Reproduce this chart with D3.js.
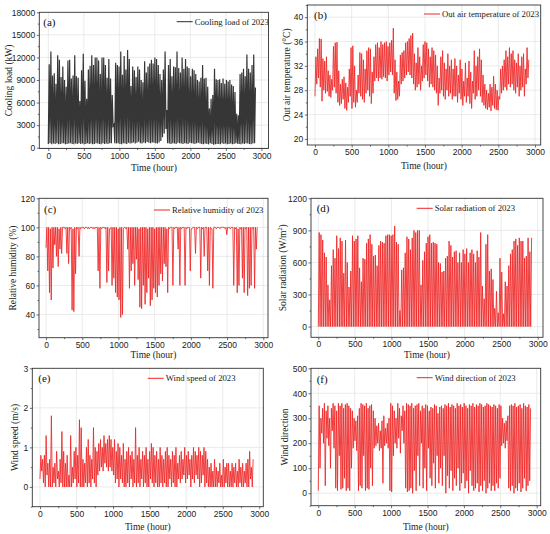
<!DOCTYPE html>
<html lang="en">
<head>
<meta charset="UTF-8">
<title>Cooling load and weather of 2023</title>
<style>
html,body{margin:0;width:550px;height:534px;overflow:hidden;background:#fff;}
svg{display:block;font-family:"Liberation Serif","Times New Roman",serif;}
.tick text{font-size:8.5px;fill:#222;}
.tick line{stroke:#333;stroke-width:0.7;}
</style>
</head>
<body>
<svg width="550" height="534"></svg>
<script src="https://d3js.org/d3.v7.min.js"></script>
<script>
// daily peaks and troughs, one value per day (122 days, 2928 hours)
const coolHi = [
  11100,12800,9600,9900,8500,12300,11700,9400,10800,9000,
  8100,11600,11700,9200,9600,12300,9500,9300,6200,10300,
  12500,8900,6500,10400,10900,12300,11000,12000,12000,11600,
  9800,12000,12000,11000,9300,11800,9200,7000,3100,11300,
  11000,10800,12800,9700,12200,10400,13000,11800,8200,10800,
  10300,9400,10800,10400,9000,8700,11500,10000,10800,11200,
  11700,11200,12000,11800,11000,9800,9000,10400,12800,5000,
  11000,11800,9500,10800,10700,12800,10600,10000,12000,10500,
  11800,10800,10600,9500,10500,10300,9800,9000,8800,9300,
  11000,9200,9300,8100,5200,6500,7000,10500,9100,9000,
  9100,8600,9200,8500,9000,8800,9000,8400,8200,7400,
  4500,4300,9800,10000,10500,9500,12400,10500,10000,11000,
  12400,8000];
const coolLo = [
  500,600,450,550,500,600,450,500,550,600,
  450,500,550,600,500,450,550,500,600,500,
  550,450,500,600,500,550,450,500,600,550,
  500,450,600,500,550,500,600,600,2900,600,
  550,600,500,450,600,550,500,650,550,600,
  700,550,650,800,600,550,700,600,750,650,
  600,700,650,600,550,700,900,1400,1900,2500,
  600,550,500,600,550,500,650,600,550,500,
  600,550,500,650,600,550,500,600,650,550,
  500,450,550,500,450,600,500,400,450,500,
  500,450,600,500,550,450,500,550,450,500,
  600,550,500,450,550,500,600,550,500,450,
  550,600];

const tempHi = [
  33.5,34.8,36.5,36.4,33.2,32.8,33.5,31.2,30.5,29.8,
  35.2,35.8,35.9,31.2,29.0,29.8,30.2,29.2,28.5,31.5,
  35.0,35.3,32.0,28.0,30.5,34.2,34.0,33.0,31.5,34.5,
  35.0,34.8,31.0,33.5,35.5,35.8,35.0,36.0,35.5,35.8,
  36.0,35.2,35.8,36.2,38.2,33.0,31.0,29.5,33.8,34.2,
  34.5,35.8,36.0,36.5,37.0,37.4,34.0,32.5,35.0,33.5,
  32.0,35.5,36.0,35.8,34.8,33.5,35.0,34.5,33.8,32.0,
  30.0,33.5,34.5,32.5,31.5,34.0,32.0,33.0,31.5,33.2,
  32.0,30.5,33.0,31.5,29.5,32.5,30.0,32.8,31.0,29.5,
  34.5,32.0,33.5,34.8,33.0,30.5,29.0,28.0,27.5,29.0,
  28.5,30.3,29.0,28.0,27.0,31.5,32.0,33.0,34.5,33.5,
  35.0,34.0,34.5,33.0,32.5,34.0,32.0,33.5,34.0,31.5,
  35.0,33.0];
const tempLo = [
  27.0,29.0,30.0,28.5,26.2,28.0,27.5,27.8,27.0,26.8,
  28.0,28.5,27.5,26.0,25.5,25.8,26.5,25.0,24.7,26.0,
  27.0,25.0,26.0,25.2,26.0,27.5,27.0,26.5,26.0,27.5,
  28.0,27.0,25.8,27.5,29.5,30.0,29.5,30.0,29.8,30.2,
  30.0,29.5,30.5,31.0,30.5,27.5,26.3,26.5,27.0,29.0,
  29.5,30.0,30.5,31.0,30.5,30.0,29.0,28.0,28.5,29.0,
  28.0,29.5,30.0,30.5,29.5,28.5,29.0,28.5,28.0,27.5,
  25.5,27.5,28.0,27.0,26.5,28.0,27.0,27.5,26.5,27.0,
  27.0,26.0,27.5,26.5,25.5,27.0,26.0,27.0,25.8,25.0,
  27.5,26.5,27.0,28.0,27.0,26.0,25.5,25.0,24.8,25.2,
  24.6,25.5,25.0,24.8,24.7,26.5,27.5,28.0,28.5,28.0,
  29.0,28.5,29.0,28.0,27.5,28.5,27.0,28.0,28.5,27.0,
  29.0,30.0];

const rhHi = [
  100,100,99,100,100,100,100,99,100,100,
  100,100,100,100,100,99,100,100,100,100,
  100,100,100,100,100,100,100,100,100,100,
  100,100,100,100,100,100,99,100,100,100,
  100,99,100,100,99,100,100,100,100,100,
  100,100,100,99,100,100,100,100,99,100,
  100,100,99,100,100,100,100,100,100,99,
  100,100,100,100,100,100,100,100,100,100,
  100,100,100,99,100,100,100,100,100,100,
  100,100,100,100,100,99,100,100,100,100,
  100,100,100,100,100,100,100,100,100,100,
  99,100,100,100,100,100,100,100,100,100,
  100,100];
const rhLo = [
  86,70,55,50,72,88,80,73,85,82,
  100,99,82,75,99,43,42,68,99,80,
  99,100,99,100,99,99,100,99,99,100,
  70,58,99,100,99,62,70,99,60,65,
  55,52,50,38,40,100,99,85,58,70,
  75,60,78,64,45,44,60,47,55,65,
  46,50,58,55,52,60,68,63,75,73,
  55,99,100,60,99,100,85,60,99,100,
  60,99,100,70,99,100,82,99,100,65,
  99,80,100,70,60,99,58,100,99,100,
  99,100,100,99,95,100,99,100,60,99,
  55,60,99,65,55,99,53,58,60,99,
  58,85];

const solarHi = [
  880,860,810,690,650,390,250,570,720,640,
  850,730,830,800,500,810,600,370,520,850,
  800,820,850,550,420,640,630,780,820,860,
  770,660,670,570,760,800,790,780,850,860,
  860,850,860,940,790,770,150,530,550,690,
  840,820,720,830,900,880,900,900,390,620,
  700,780,840,860,780,790,780,770,600,590,
  510,520,640,660,800,760,650,700,710,600,
  690,600,720,680,730,600,690,720,680,600,
  710,650,880,380,260,770,860,520,540,440,
  170,330,130,640,510,120,420,380,570,680,
  720,800,820,760,830,800,800,640,660,830,
  700,830];
const solarLo = [
  0,0,0,0,0,0,0,0,0,0, 0,0,0,0,0,0,0,0,0,0,
  0,0,0,0,0,0,0,0,0,0, 0,0,0,0,0,0,0,0,0,0,
  0,0,0,0,0,0,0,0,0,0, 0,0,0,0,0,0,0,0,0,0,
  0,0,0,0,0,0,0,0,0,0, 0,0,0,0,0,0,0,0,0,0,
  0,0,0,0,0,0,0,0,0,0, 0,0,0,0,0,0,0,0,0,0,
  0,0,0,0,0,0,0,0,0,0, 0,0,0,0,0,0,0,0,0,0,
  0,0];

const windHi = [
  0.8,0.7,0.8,1.3,0.6,0.7,1.8,0.5,0.6,0.9,
  0.4,0.7,1.4,0.9,0.6,0.8,0.3,1.3,0.5,0.9,
  1.0,0.8,1.7,1.5,0.7,0.6,1.0,1.2,0.8,0.7,
  1.5,1.0,0.9,1.1,1.2,1.0,1.3,1.1,1.2,1.3,
  1.2,1.0,1.2,0.9,1.1,1.0,0.8,1.1,0.7,0.9,
  1.0,0.8,0.9,0.7,1.5,0.8,1.0,0.7,0.9,0.8,
  1.0,0.7,0.9,1.1,1.0,0.8,0.9,0.7,1.0,0.8,
  0.7,0.9,1.0,0.8,0.7,0.9,0.8,1.0,0.6,0.8,
  0.9,0.7,1.0,0.8,0.9,0.7,0.8,1.0,0.9,0.8,
  1.0,0.9,0.8,1.0,0.9,0.7,0.5,0.6,0.4,0.7,
  0.5,0.4,0.6,0.3,0.7,0.5,0.6,0.6,0.4,0.6,
  0.5,0.6,0.4,0.7,0.5,0.6,0.4,0.6,0.7,0.9,
  0.5,0.7];
const windLo = [
  0.2,0.4,0.1,0.0,0.3,0.0,0.0,0.0,0.1,0.0,
  0.2,0.0,0.1,0.0,0.0,0.0,0.0,0.0,0.0,0.1,
  0.2,0.0,0.1,0.0,0.0,0.0,0.1,0.0,0.1,0.0,
  0.2,0.1,0.0,0.3,0.4,0.5,0.4,0.6,0.5,0.4,
  0.5,0.4,0.3,0.1,0.2,0.0,0.2,0.1,0.0,0.0,
  0.1,0.0,0.2,0.0,0.1,0.0,0.1,0.0,0.2,0.0,
  0.1,0.0,0.0,0.2,0.1,0.0,0.1,0.0,0.0,0.1,
  0.0,0.1,0.0,0.0,0.2,0.0,0.1,0.0,0.0,0.2,
  0.1,0.2,0.3,0.1,0.2,0.3,0.0,0.2,0.1,0.3,
  0.2,0.0,0.1,0.3,0.0,0.1,0.0,0.0,0.0,0.0,
  0.0,0.0,0.1,0.0,0.0,0.0,0.1,0.0,0.0,0.0,
  0.0,0.1,0.0,0.0,0.1,0.0,0.0,0.1,0.0,0.0,
  0.2,0.0];

const dirHi = [
  350,300,340,360,330,350,300,340,360,350,
  330,360,350,360,340,355,360,350,340,330,
  300,290,310,340,360,355,350,360,340,350,
  355,330,300,270,280,250,290,310,260,280,
  300,360,350,330,300,360,340,310,350,330,
  360,355,350,360,340,350,355,360,330,350,
  340,355,350,330,345,340,355,350,320,345,
  350,340,355,350,360,345,355,350,340,360,
  350,355,345,360,350,340,355,350,360,345,
  355,350,360,355,345,350,360,355,350,345,
  355,350,340,355,350,300,280,290,310,350,
  355,350,360,345,350,355,340,360,350,345,
  355,340];
const dirLo = [
  10,100,240,200,30,220,190,100,250,180,
  20,10,150,15,20,60,10,20,10,100,
  180,210,170,10,30,20,150,10,20,15,
  100,30,180,190,200,170,180,40,190,200,
  180,10,5,150,200,180,220,160,250,200,
  20,5,10,20,0,90,10,150,30,200,
  20,100,10,180,60,30,120,20,150,40,
  100,30,150,0,70,20,90,10,60,30,
  100,10,40,80,20,50,0,90,30,10,
  20,40,5,30,10,50,0,20,40,10,
  30,10,40,20,60,190,200,180,210,20,
  10,30,0,20,10,40,5,20,60,10,
  30,50];

const xTicks = [0,500,1000,1500,2000,2500,3000];
const HOURS_PER_DAY = 24;

const RED = "rgb(238,38,38)";
const panels = [
  {tag:"(a)", lo:coolLo, hi:coolHi, color:"#2b2b2b", opacity:0.95, width:1.2,
   box:[39.3,12.3,268.5,148.5], xd:[-127,3100], yd:[-100,18000],
   yTicks:[0,3000,6000,9000,12000,15000,18000], yMinor:1500,
   yTitle:"Cooling load (kW)", yTitleX:9, xTitleY:167.5,
   legend:"Cooling load of 2023", legX:176.7, legY:21.7, tagX:43.3, tagY:25.5},
  {tag:"(b)", lo:tempLo, hi:tempHi, color:RED, opacity:0.85, width:1,
   box:[307.3,5,540.7,145], xd:[-105,3078], yd:[19,42],
   yTicks:[20,24,28,32,36,40], yMinor:2,
   yTitle:"Out air temperature (°C)", yTitleX:286.7, xTitleY:166,
   legend:"Out air temperature of 2023", legX:424, legY:14, tagX:314, tagY:19},
  {tag:"(c)", lo:rhLo, hi:rhHi, color:RED, opacity:0.85, width:1,
   box:[39,198.3,268,337.7], xd:[-97,3065], yd:[24,120],
   yTicks:[40,60,80,100,120], yMinor:10,
   yTitle:"Relative humidity (%)", yTitleX:13.3, xTitleY:355,
   legend:"Relative humidity of 2023", legX:154, legY:210, tagX:44, tagY:212.5},
  {tag:"(d)", lo:solarLo, hi:solarHi, color:RED, opacity:0.85, width:1,
   box:[311,198.3,543,337.3], xd:[-100,3072], yd:[-100,1200],
   yTicks:[0,300,600,900,1200], yMinor:150,
   yTitle:"Solar radiation (W/m", yTitleSup:"2", yTitleX:283.3, xTitleY:355,
   legend:"Solar radiation of 2023", legX:416.7, legY:208.3, tagX:316.7, tagY:211.5},
  {tag:"(e)", lo:windLo, hi:windHi, color:RED, opacity:0.85, width:1,
   box:[32.3,368.3,263.3,506.7], xd:[-105,3055], yd:[-0.5,3],
   yTicks:[0,1,2,3], yMinor:0.5,
   yTitle:"Wind speed (m/s)", yTitleX:15, xTitleY:527,
   legend:"Wind speed of 2023", legX:147.7, legY:378.3, tagX:38.3, tagY:381.5},
  {tag:"(f)", lo:dirLo, hi:dirHi, color:RED, opacity:0.85, width:1,
   box:[311,368.3,540.7,505.7], xd:[-100,3055], yd:[-50,500],
   yTicks:[0,100,200,300,400,500], yMinor:50,
   yTitle:"Wind direction", yTitleX:285, xTitleY:527,
   legend:"Wind direction of 2023", legX:416.7, legY:377.7, tagX:316.7, tagY:382.5}
];

const svg = d3.select("svg");

// turn each day's trough and peak into two points of the hourly line
const dailyPoints = (lo, hi) => lo.flatMap((v, i) => [
  {h: i * HOURS_PER_DAY, v: v},
  {h: i * HOURS_PER_DAY + 12, v: hi[i]}
]);

panels.forEach((p, k) => {
  const [l, t, r, b] = p.box;
  const x = d3.scaleLinear().domain(p.xd).range([l, r]);
  const y = d3.scaleLinear().domain(p.yd).range([b, t]);
  const g = svg.append("g");

  const xMinor = d3.range(250, p.xd[1], 500);
  const yMinor = d3.range(Math.ceil(p.yd[0] / p.yMinor) * p.yMinor, p.yd[1] + 1e-9, p.yMinor)
    .filter(v => !p.yTicks.some(tk => Math.abs(tk - v) < 1e-9));

  // grid
  g.append("g").selectAll("line").data(xTicks).join("line")
    .attr("x1", d => x(d)).attr("x2", d => x(d)).attr("y1", t).attr("y2", b)
    .attr("stroke", "#e2e2e2").attr("stroke-width", 0.7);
  g.append("g").selectAll("line").data(p.yTicks.filter(v => y(v) > t + 0.5 && y(v) < b - 0.5)).join("line")
    .attr("x1", l).attr("x2", r).attr("y1", d => y(d)).attr("y2", d => y(d))
    .attr("stroke", "#e2e2e2").attr("stroke-width", 0.7);

  // series
  const clipId = "clip" + k;
  g.append("clipPath").attr("id", clipId).append("rect")
    .attr("x", l).attr("y", t).attr("width", r - l).attr("height", b - t);
  const line = d3.line().x(d => x(d.h)).y(d => y(d.v));
  g.append("path")
    .attr("clip-path", `url(#${clipId})`)
    .attr("d", line(dailyPoints(p.lo, p.hi)))
    .attr("fill", "none")
    .attr("stroke", p.color)
    .attr("stroke-opacity", p.opacity)
    .attr("stroke-width", p.width);

  // axes
  g.append("g").attr("transform", `translate(0,${b})`)
    .call(d3.axisBottom(x).tickValues(xTicks).tickSize(2.5).tickPadding(1.5).tickFormat(d3.format("d")));
  g.append("g").attr("transform", `translate(0,${b})`)
    .call(d3.axisBottom(x).tickValues(xMinor).tickSize(1.5).tickFormat(""));
  g.append("g").attr("transform", `translate(${l},0)`)
    .call(d3.axisLeft(y).tickValues(p.yTicks).tickSize(2.5).tickPadding(1.5).tickFormat(d3.format("d")));
  g.append("g").attr("transform", `translate(${l},0)`)
    .call(d3.axisLeft(y).tickValues(yMinor).tickSize(1.5).tickFormat(""));
  g.selectAll(".domain").remove();
  g.selectAll(".tick line").attr("stroke", "#333");

  g.append("rect").attr("x", l).attr("y", t).attr("width", r - l).attr("height", b - t)
    .attr("fill", "none").attr("stroke", "#333").attr("stroke-width", 0.9);

  // titles
  g.append("text").attr("x", (l + r) / 2).attr("y", p.xTitleY)
    .attr("text-anchor", "middle").attr("dominant-baseline", "central")
    .attr("font-size", 9.5).attr("fill", "#222").text("Time (hour)");
  const yt = g.append("text")
    .attr("transform", `translate(${p.yTitleX},${(t + b) / 2}) rotate(-90)`)
    .attr("text-anchor", "middle").attr("dominant-baseline", "central")
    .attr("font-size", 9.5).attr("fill", "#222").text(p.yTitle);
  if (p.yTitleSup) {
    yt.append("tspan").attr("font-size", 6).attr("dy", -3.5).text(p.yTitleSup);
    yt.append("tspan").attr("dy", 3.5).text(")");
  }

  // panel tag and legend
  g.append("text").attr("x", p.tagX).attr("y", p.tagY)
    .attr("font-size", 11).attr("fill", "#111").text(p.tag);
  g.append("line").attr("x1", p.legX).attr("x2", p.legX + 16).attr("y1", p.legY).attr("y2", p.legY)
    .attr("stroke", p.color).attr("stroke-width", 1);
  g.append("text").attr("x", p.legX + 18).attr("y", p.legY).attr("dy", "0.33em")
    .attr("font-size", 8.7).attr("fill", "#222").text(p.legend);
});
</script>
</body>
</html>
